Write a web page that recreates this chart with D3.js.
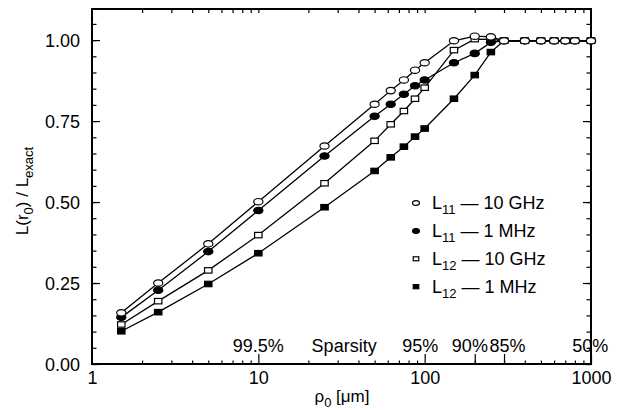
<!DOCTYPE html>
<html><head><meta charset="utf-8">
<script src="https://cdn.jsdelivr.net/npm/d3@7"></script>
<style>
html,body{margin:0;padding:0;background:#fff;}
text{font-family:"Liberation Sans",Arial,sans-serif;fill:#000;}
</style></head>
<body><svg id="c" width="629" height="410"></svg>
<script>
const xValues = [1.5, 2.5, 5, 10, 25, 50, 62.5, 75, 87.5, 100, 150, 200, 250, 300, 400, 500, 600, 700, 800, 1000];
const seriesNames = ["L11 — 10 GHz", "L11 — 1 MHz", "L12 — 10 GHz", "L12 — 1 MHz"];
const l11_10GHz = [0.158, 0.250, 0.371, 0.501, 0.673, 0.802, 0.844, 0.877, 0.907, 0.930, 0.998, 1.012, 1.010, 0.998, 0.998, 0.998, 0.998, 0.998, 0.998, 0.998];
const l11_1MHz  = [0.144, 0.228, 0.347, 0.474, 0.642, 0.765, 0.802, 0.833, 0.859, 0.877, 0.930, 0.959, 0.993, 0.998, 0.998, 0.998, 0.998, 0.998, 0.998, 0.998];
const l12_10GHz = [0.122, 0.194, 0.289, 0.398, 0.558, 0.689, 0.740, 0.781, 0.819, 0.853, 0.969, 1.003, 1.002, 0.998, 0.998, 0.998, 0.998, 0.998, 0.998, 0.998];
const l12_1MHz  = [0.101, 0.160, 0.247, 0.342, 0.484, 0.596, 0.638, 0.671, 0.702, 0.727, 0.819, 0.892, 0.963, 0.998, 0.998, 0.998, 0.998, 0.998, 0.998, 0.998];
const xTickLabels = [1, 10, 100, 1000];
const yTickValues = [0, 0.25, 0.5, 0.75, 1.0];
const sparsityTicks = [10, 100, 200, 300, 1000];
const sparsityLabels = ["99.5%", "Sparsity", "95%", "90%", "85%", "50%"];
const sparsityLabelX = [10, 32.8, 94, 187, 315, 990];

const svg = d3.select("#c");
const L = 92, R = 591, T = 9, B = 364;
const x = d3.scaleLog().domain([1, 1000]).range([L, R]);
const y = d3.scaleLinear().domain([0, 1.096]).range([B, T]);

const minorX = [];
for (let d = 1; d < 1000; d *= 10) for (let k = 2; k <= 9; k++) minorX.push(d * k);
const minorY = d3.range(0, 22).map(i => +(i * 0.05).toFixed(2)).filter(v => v <= 1.09);

function clean(g){ g.select(".domain").remove(); g.selectAll("line").attr("stroke","#000").attr("stroke-width",1.2); }

// bottom minor ticks
svg.append("g").attr("transform",`translate(0,${B})`)
  .call(d3.axisBottom(x).tickValues(minorX).tickSize(-3.5).tickFormat(""))
  .call(clean);
// sparsity ticks
svg.append("g").attr("transform",`translate(0,${B})`)
  .call(d3.axisBottom(x).tickValues(sparsityTicks).tickSize(-10).tickFormat(""))
  .call(clean);
// bottom labels
svg.append("g").attr("transform",`translate(0,${B})`)
  .call(d3.axisBottom(x).tickValues(xTickLabels).tickSize(0).tickPadding(20).tickFormat(d3.format("d")))
  .call(clean)
  .call(g => g.selectAll("text").attr("font-size",18).attr("dy",0).attr("y",20));
// top ticks
svg.append("g").attr("transform",`translate(0,${T})`)
  .call(d3.axisTop(x).tickValues(minorX.concat([10,100])).tickSize(-4).tickFormat(""))
  .call(clean);
// left axis
svg.append("g").attr("transform",`translate(${L},0)`)
  .call(d3.axisLeft(y).tickValues(minorY).tickSize(-4.5).tickFormat(""))
  .call(clean);
svg.append("g").attr("transform",`translate(${L},0)`)
  .call(d3.axisLeft(y).tickValues(yTickValues).tickSize(-8).tickPadding(12).tickFormat(d3.format(".2f")))
  .call(clean)
  .call(g => g.selectAll("text").attr("font-size",18).attr("dy","0.35em"));
// right axis
svg.append("g").attr("transform",`translate(${R},0)`)
  .call(d3.axisRight(y).tickValues(minorY).tickSize(-4.5).tickFormat(""))
  .call(clean);
svg.append("g").attr("transform",`translate(${R},0)`)
  .call(d3.axisRight(y).tickValues(yTickValues).tickSize(-8).tickFormat(""))
  .call(clean);

// frame
svg.append("rect").attr("x",L).attr("y",T).attr("width",R-L).attr("height",B-T)
  .attr("fill","none").attr("stroke","#000").attr("stroke-width",2);

// sparsity labels
svg.append("g").selectAll("text").data(sparsityLabels).join("text")
  .attr("x",(d,i)=>x(sparsityLabelX[i])).attr("y",352)
  .attr("text-anchor","middle").attr("font-size",18).text(d=>d);

// series
const allSeries = [l11_10GHz, l11_1MHz, l12_10GHz, l12_1MHz];
const shapes = ["circle","circle","square","square"];
const fills = ["#fff","#000","#fff","#000"];
const line = d3.line().x(d=>x(d[0])).y(d=>y(d[1]));
allSeries.forEach((vals) => {
  const pts = xValues.map((xv,i)=>[xv, vals[i]]);
  svg.append("path").datum(pts).attr("d",line).attr("fill","none").attr("stroke","#000").attr("stroke-width",1.3);
});
function drawMarker(g, shape, fill, cx, cy, s){
  if (shape==="circle") g.append("ellipse").attr("cx",cx).attr("cy",cy).attr("rx",4.6*s).attr("ry",3.2*s)
      .attr("fill",fill).attr("stroke","#000").attr("stroke-width",1.2);
  else g.append("rect").attr("x",cx-3.7*s).attr("y",cy-2.7*s).attr("width",7.4*s).attr("height",5.4*s)
      .attr("fill",fill).attr("stroke","#000").attr("stroke-width",1.2);
}
const mk = svg.append("g");
[3,2,1,0].forEach(si => {
  xValues.forEach((xv,i)=> drawMarker(mk, shapes[si], fills[si], x(xv), y(allSeries[si][i]), 1));
});

// legend
const lg = svg.append("g");
const legendParts = [["11","10 GHz"],["11","1 MHz"],["12","10 GHz"],["12","1 MHz"]];
legendParts.forEach((p,i)=>{
  const by = 209 + i*27.9;
  drawMarker(lg, shapes[i], fills[i], 416, by-6, 0.75);
  const t = lg.append("text").attr("x",432).attr("y",by).attr("font-size",18);
  t.append("tspan").text("L");
  t.append("tspan").attr("font-size",13).attr("dy",5).text(p[0]);
  t.append("tspan").attr("dy",-5).text(" — " + p[1]);
});

// axis titles
const yt = svg.append("text").attr("transform","translate(28,191) rotate(-90)")
  .attr("text-anchor","middle").attr("font-size",17);
yt.append("tspan").text("L(r");
yt.append("tspan").attr("font-size",13).attr("dy",5).text("0");
yt.append("tspan").attr("dy",-5).text(") / L");
yt.append("tspan").attr("font-size",13).attr("dy",5).text("exact");

const xt = svg.append("text").attr("x",342).attr("y",402).attr("text-anchor","middle").attr("font-size",17);
xt.append("tspan").text("ρ");
xt.append("tspan").attr("font-size",13).attr("dy",5).text("0");
xt.append("tspan").attr("dy",-5).text(" [μm]");
</script></body></html>
